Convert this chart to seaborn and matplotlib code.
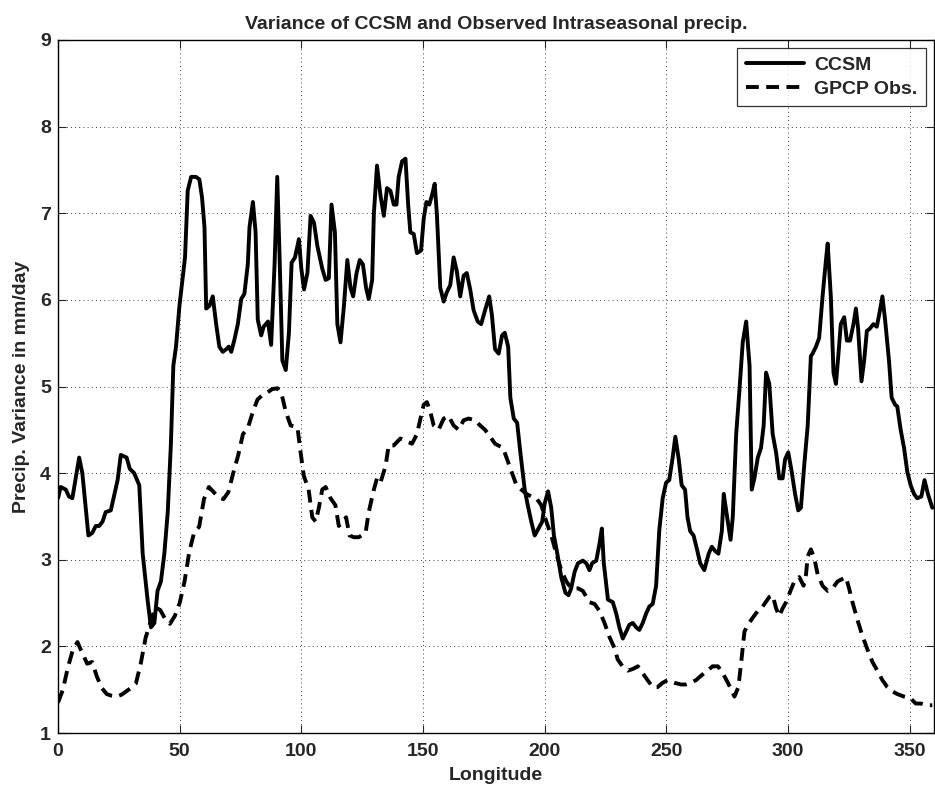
import matplotlib
matplotlib.use("Agg")
import matplotlib.pyplot as plt
import seaborn as sns
import pandas as pd

ccsm_lon = [0, 1.1, 3.2, 4.5, 5.9, 8.7, 10.0, 12.5, 14.1, 15.5, 16.9, 18.3, 19.6, 21.7, 24.5, 25.8,
            28.2, 29.5, 31.3, 33.4, 34.8, 36.8, 38.2, 39.6, 40.9, 42.3, 43.7, 45.1, 46.4, 47.4, 48.5,
            49.9, 52.2, 53.3, 54.7, 56.7, 58.1, 59.2, 60.2, 60.9, 62.2, 63.6, 65.0, 66.3, 67.7, 69.1,
            70.2, 71.2, 72.5, 73.9, 75.3, 76.6, 78.0, 78.7, 80.1, 81.2, 82.1, 83.5, 84.5, 86.3, 87.6,
            89.0, 90.1, 91.1, 92.2, 93.6, 94.9, 96.0, 97.4, 99.0, 100.0, 101.1, 102.5, 103.8, 105.2,
            106.6, 108.6, 110.0, 111.3, 112.4, 113.8, 114.8, 116.1, 117.5, 118.9, 120.2, 121.3, 122.7,
            124.0, 125.3, 126.6, 127.7, 129.1, 129.8, 131.1, 132.5, 133.9, 135.2, 136.6, 138.0, 139.1,
            140.0, 141.4, 142.8, 143.9, 144.8, 146.2, 147.5, 149.2, 150.3, 151.4, 152.6, 153.7, 154.8,
            155.7, 157.1, 158.5, 159.8, 161.2, 162.6, 163.9, 165.3, 166.7, 168.0, 169.4, 170.8, 172.5,
            173.9, 175.5, 177.2, 178.3, 179.6, 181.1, 182.5, 183.6, 185.0, 185.9, 187.3, 188.7, 190.0,
            191.8, 192.9, 194.5, 195.9, 198.0, 199.0, 200.0, 201.4, 202.7, 203.8, 205.2, 206.8, 208.5,
            209.8, 210.9, 212.3, 213.7, 215.7, 217.1, 218.4, 219.5, 221.2, 222.5, 223.5, 224.3, 226.0,
            228.0, 229.4, 230.7, 232.1, 233.5, 234.8, 236.2, 237.6, 238.9, 240.3, 241.7, 243.0, 244.4,
            245.8, 247.1, 248.5, 249.9, 251.2, 252.6, 253.7, 255.1, 256.3, 257.7, 258.7, 259.8, 261.2,
            262.6, 263.9, 265.6, 267.4, 268.7, 270.1, 271.4, 272.8, 273.6, 275.0, 276.4, 277.3, 278.7,
            280.1, 281.4, 282.8, 284.2, 285.1, 286.2, 287.6, 288.9, 290.0, 291.0, 292.3, 293.7, 295.1,
            296.4, 297.8, 298.8, 300.1, 301.5, 302.9, 304.2, 305.3, 306.7, 308.1, 309.4, 310.1, 311.5,
            312.8, 314.2, 315.6, 316.3, 317.6, 318.7, 319.7, 320.8, 321.7, 323.1, 324.2, 325.5, 326.9,
            327.9, 328.8, 330.2, 331.3, 332.4, 333.7, 335.1, 336.5, 337.8, 338.8, 339.9, 341.5, 342.6,
            344.0, 344.9, 346.3, 347.7, 349.0, 350.4, 351.8, 353.1, 354.8, 356.1, 357.5, 359.3]
ccsm_var = [3.71, 3.84, 3.81, 3.73, 3.71, 4.18, 4.0, 3.28, 3.31, 3.39, 3.39, 3.44, 3.55, 3.57, 3.92, 4.21,
            4.18, 4.05, 4.0, 3.86, 3.07, 2.54, 2.22, 2.27, 2.64, 2.75, 3.07, 3.55, 4.34, 5.24, 5.46,
            5.93, 6.49, 7.26, 7.42, 7.42, 7.39, 7.18, 6.84, 5.9, 5.93, 6.04, 5.72, 5.46, 5.4, 5.43,
            5.46, 5.4, 5.54, 5.72, 6.01, 6.07, 6.41, 6.84, 7.13, 6.78, 5.77, 5.59, 5.69, 5.75, 5.48,
            6.41, 7.42, 6.46, 5.3, 5.19, 5.62, 6.43, 6.49, 6.7, 6.36, 6.12, 6.31, 6.97, 6.89,
            6.62, 6.36, 6.23, 6.25, 7.1, 6.78, 5.72, 5.51, 5.93, 6.46, 6.14, 6.04, 6.31,
            6.46, 6.41, 6.14, 6.01, 6.23, 6.99, 7.55, 7.21, 6.97, 7.29, 7.26, 7.1, 7.1,
            7.42, 7.6, 7.63, 7.1, 6.78, 6.76, 6.54, 6.57, 6.94, 7.13, 7.1, 7.21, 7.34,
            6.99, 6.14, 5.98, 6.09, 6.17, 6.49, 6.33, 6.04, 6.28, 6.31, 6.12, 5.88, 5.75,
            5.72, 5.88, 6.04, 5.83, 5.43, 5.38, 5.59, 5.62, 5.46, 4.87, 4.63, 4.58, 4.24,
            3.81, 3.65, 3.44, 3.28, 3.39, 3.44, 3.65, 3.79, 3.6, 3.28, 3.07, 2.8, 2.62,
            2.59, 2.67, 2.86, 2.96, 2.99, 2.96, 2.88, 2.96, 2.99, 3.18, 3.36, 2.96, 2.54,
            2.51, 2.38, 2.22, 2.09, 2.17, 2.25, 2.27, 2.22, 2.19, 2.27, 2.38, 2.46, 2.49,
            2.7, 3.34, 3.71, 3.89, 3.92, 4.18, 4.42, 4.16, 3.86, 3.81, 3.49, 3.33, 3.28,
            3.12, 2.96, 2.88, 3.07, 3.15, 3.1, 3.07, 3.33, 3.76, 3.49, 3.23, 3.49, 4.45,
            4.98, 5.51, 5.75, 5.24, 3.81, 3.94, 4.18, 4.29, 4.55, 5.16, 5.03, 4.45, 4.24,
            3.94, 3.94, 4.16, 4.24, 4.02, 3.76, 3.57, 3.6, 4.1, 4.55, 5.35, 5.38, 5.46,
            5.56, 6.04, 6.46, 6.65, 6.04, 5.16, 5.03, 5.4, 5.72, 5.8, 5.53, 5.53, 5.72,
            5.9, 5.67, 5.06, 5.3, 5.64, 5.67, 5.72, 5.69, 5.88, 6.04, 5.77, 5.3, 4.87,
            4.79, 4.77, 4.5, 4.29, 4.02, 3.86, 3.76, 3.71, 3.73, 3.92, 3.76, 3.6]

gpcp_lon = [0, 2, 4, 6, 8, 10, 12, 14, 16, 18, 20, 22, 24, 26, 28, 30, 32, 34, 36, 38, 40, 42, 44,
            46, 48, 50, 52, 54, 56, 58, 60, 62, 64, 66, 68, 70, 72, 74, 76, 78, 80, 82, 84, 86, 88,
            90.2, 92, 93.6, 95.6, 98.4, 99.7, 101, 103, 104.5, 105.9, 107.2, 108.6, 110, 112, 114,
            115.4, 116.8, 118.4, 119.8, 121.6, 123.6, 126.4, 127.7, 129.8, 131.1, 132.5, 134.6,
            135.9, 138, 140.7, 142.8, 145.5, 147.5, 149.2, 150.3, 151.6, 153, 154.4, 156.4, 158.5,
            160.5, 162.6, 164.6, 166.7, 168.7, 171.4, 173.5, 175.5, 177.6, 179.6, 180.9, 182.9,
            184.3, 186.3, 188.4, 190.4, 192.5, 194.5, 196.6, 198.6, 200.7, 202.7, 204.8, 206.8,
            208.9, 210.9, 213.7, 215.7, 218.4, 220.5, 222.5, 224.6, 226.6, 228.7, 230, 232, 234.2,
            236.3, 238.3, 240.3, 242.3, 244.4, 246.4, 248.5, 250.5, 253.3, 256, 258, 260, 262.2,
            264.2, 266.9, 269, 271.2, 273.2, 275.3, 278, 279.6, 280.7, 282.1, 283.5, 285.5, 287.6,
            289.6, 292.3, 293.7, 295.1, 296.4, 297.8, 299.2, 301, 302.6, 304.6, 306.4, 307.4, 308.1,
            309.4, 310.8, 312.2, 314.2, 316.3, 318.3, 320.4, 322.4, 323.8, 325.1, 326.5, 328.6,
            330.6, 332.7, 334.7, 336.7, 338.8, 340.8, 342.9, 344.9, 347.7, 350.4, 352.5, 354.5,
            357.2, 359.3]
gpcp_var = [1.35, 1.5, 1.75, 1.95, 2.05, 1.92, 1.8, 1.82, 1.65, 1.52, 1.45, 1.43, 1.42, 1.44, 1.48,
            1.52, 1.57, 1.8, 2.1, 2.28, 2.45, 2.42, 2.32, 2.26, 2.35, 2.5, 2.75, 3.1, 3.32, 3.38,
            3.7, 3.84, 3.78, 3.72, 3.7, 3.78, 4.0, 4.2, 4.45, 4.52, 4.7, 4.85, 4.9, 4.93, 4.97,
            4.98, 4.9, 4.71, 4.55, 4.53, 4.24, 3.97, 3.81, 3.49, 3.44, 3.6, 3.81, 3.84, 3.71, 3.63,
            3.39, 3.44, 3.49, 3.28, 3.26, 3.26, 3.31, 3.55, 3.81, 3.94, 3.89, 4.08,
            4.32, 4.32, 4.4, 4.37, 4.34, 4.45, 4.66, 4.79, 4.82, 4.71, 4.55, 4.5, 4.63,
            4.66, 4.55, 4.5, 4.61, 4.63, 4.61, 4.55, 4.5, 4.42, 4.34, 4.32, 4.29,
            4.18, 4.02, 3.86, 3.81, 3.76, 3.73, 3.71, 3.63, 3.44, 3.28, 3.07, 2.88,
            2.75, 2.67, 2.67, 2.64, 2.51, 2.49, 2.41, 2.27, 2.11, 1.98, 1.85, 1.77, 1.72,
            1.74, 1.77, 1.69, 1.61, 1.53, 1.53, 1.58, 1.61, 1.58, 1.56, 1.56, 1.58, 1.61,
            1.66, 1.72, 1.77, 1.77, 1.69, 1.58, 1.42, 1.53, 1.8, 2.17, 2.25, 2.33, 2.41,
            2.46, 2.57, 2.59, 2.44, 2.35, 2.44, 2.51, 2.64, 2.75, 2.8, 2.7, 2.83, 3.04,
            3.12, 3.02, 2.83, 2.7, 2.64, 2.67, 2.75, 2.78, 2.8, 2.67, 2.51, 2.3,
            2.12, 1.96, 1.82, 1.72, 1.61, 1.53, 1.48, 1.45, 1.42, 1.4, 1.34, 1.34,
            1.32, 1.32]

x_ticks = [0, 50, 100, 150, 200, 250, 300, 350]
y_ticks = [1, 2, 3, 4, 5, 6, 7, 8, 9]

sns.set_style("ticks")
plt.rcParams['font.family'] = ['Liberation Sans', 'DejaVu Sans']
plt.rcParams['font.weight'] = 'bold'

FS = 14

fig = plt.figure(figsize=(9.35, 7.89), dpi=100)
ax = fig.add_axes([58 / 935, 56 / 789, (934 - 58) / 935, (733 - 40) / 789])

df_c = pd.DataFrame({"Longitude": ccsm_lon, "Var": ccsm_var})
df_g = pd.DataFrame({"Longitude": gpcp_lon, "Var": gpcp_var})

sns.lineplot(data=df_c, x="Longitude", y="Var", ax=ax, color="black", lw=2.8,
             label="CCSM", sort=False)
sns.lineplot(data=df_g, x="Longitude", y="Var", ax=ax, color="black", lw=2.8,
             label="GPCP Obs.", sort=False, linestyle=(0, (3.3, 1.9)))

ax.set_xlim(0, 360)
ax.set_ylim(1, 9)
ax.set_xticks(x_ticks)
ax.set_yticks(y_ticks)
ax.grid(True, color="black", linestyle=(0, (1, 4)), linewidth=0.6)
ax.tick_params(direction="in", top=True, right=True, length=6, width=0.8,
               labelsize=FS, pad=5)
ax.tick_params(axis="x", pad=7)
for lbl in ax.get_xticklabels() + ax.get_yticklabels():
    lbl.set_fontweight("bold")
for s in ax.spines.values():
    s.set_linewidth(1.0)
    s.set_color("black")

ax.set_xlabel("Longitude", fontsize=FS, fontweight="bold", labelpad=5)
ax.set_ylabel("Precip. Variance in mm/day", fontsize=FS, fontweight="bold", labelpad=7)
ax.set_title("Variance of CCSM and Observed Intraseasonal precip.", fontsize=FS,
             fontweight="bold", pad=8)

leg = ax.legend(loc="upper right", fontsize=FS, frameon=True, fancybox=False,
                edgecolor="black", handlelength=3.0, borderaxespad=0.4,
                borderpad=0.45, labelspacing=0.3, handletextpad=0.5)
leg.get_frame().set_linewidth(0.9)
for t in leg.get_texts():
    t.set_fontweight("bold")

fig.savefig("out.png", dpi=100)
